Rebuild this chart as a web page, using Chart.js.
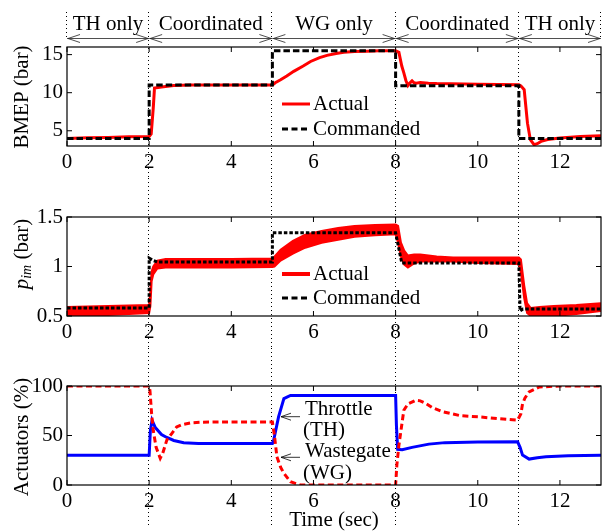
<!DOCTYPE html>
<html>
<head>
<meta charset="utf-8">
<script src="https://cdn.jsdelivr.net/npm/chart.js@4.4.1/dist/chart.umd.min.js"></script>
<style>
  body { margin: 0; background: #fff; }
  #wrap { position: relative; width: 605px; height: 531px; }
  canvas { position: absolute; left: 0; }
</style>
</head>
<body>
<div id="wrap">
  <canvas id="c1" width="605" height="178" style="top:0"></canvas>
  <canvas id="c2" width="605" height="170" style="top:178px"></canvas>
  <canvas id="c3" width="605" height="183" style="top:348px"></canvas>
</div>
<script>
const SERIF = '"Liberation Serif", "Times New Roman", serif';

// control phases along the time axis
const phaseBounds = [0, 2, 5, 8, 11, 13];
const phaseNames = ['TH only', 'Coordinated', 'WG only', 'Coordinated', 'TH only'];
const xTicks = [0, 2, 4, 6, 8, 10, 12];

// BMEP (bar)
const bmepTicks = [5, 10, 15];
const bmepCmdT = [0, 2, 2, 5, 5, 8, 8, 11, 11, 13];
const bmepCmd = [4, 4, 11, 11, 15.5, 15.5, 10.9, 10.9, 4, 4];
const bmepActT = [0, 0.5, 1, 1.5, 2, 2.05, 2.1, 2.13, 2.3, 2.6, 3, 4, 5, 5.07, 5.2, 5.35, 5.52, 5.75, 5.93, 6.15,
  6.33, 6.55, 6.74, 7, 7.3, 7.6, 8, 8.08, 8.15, 8.2, 8.25, 8.3, 8.35, 8.4, 8.45, 8.5, 8.6, 8.8, 9, 10, 11,
  11.05, 11.13, 11.21, 11.28, 11.37, 11.45, 11.54, 11.7, 12, 12.5, 13];
const bmepAct = [4.0, 4.07, 4.13, 4.2, 4.26, 4.6, 8.0, 10.6, 10.75, 10.95, 11.0, 11.0, 11.0, 11.3, 11.7, 12.2, 12.8,
  13.5, 14.1, 14.6, 14.9, 15.15, 15.3, 15.4, 15.45, 15.5, 15.5, 15.3, 13.5, 12.6, 11.6, 10.95, 11.3, 11.55, 11.3,
  11.25, 11.35, 11.25, 11.2, 11.1, 11.05, 10.9, 10.4, 6.0, 3.83, 3.17, 3.3, 3.6, 3.85, 4.05, 4.25, 4.36];

// intake manifold pressure (bar)
const pimTicks = [0.5, 1, 1.5];
const pimCmdT = [0, 2, 2, 2.1, 2.2, 5, 5, 8, 8.15, 11, 11.03, 11.1, 13];
const pimCmd = [0.58, 0.58, 1.085, 1.06, 1.045, 1.045, 1.34, 1.34, 1.035, 1.035, 0.55, 0.57, 0.57];
const pimT = [0, 1, 2, 2.03, 2.06, 2.1, 2.2, 2.4, 3, 4, 5, 5.05, 5.2, 5.5, 5.8, 6.2, 6.6, 7, 7.5, 8, 8.06, 8.13,
  8.21, 8.3, 8.45, 8.6, 9, 9.4, 10, 11, 11.05, 11.13, 11.2, 11.29, 11.5, 11.85, 12.4, 13];
const pimHi = [0.59, 0.6, 0.61, 0.75, 0.95, 1.0, 1.06, 1.075, 1.075, 1.075, 1.08, 1.1, 1.17, 1.26, 1.32, 1.36, 1.39,
  1.41, 1.42, 1.425, 1.41, 1.24, 1.16, 1.11, 1.12, 1.12, 1.1, 1.09, 1.09, 1.09, 1.07, 0.81, 0.63, 0.58, 0.59, 0.6,
  0.61, 0.63];
const pimLo = [0.5, 0.51, 0.53, 0.6, 0.85, 0.92, 0.98, 0.99, 0.99, 0.99, 0.995, 1.0, 1.06, 1.13, 1.19, 1.24, 1.27,
  1.3, 1.315, 1.325, 1.24, 1.1, 1.02, 0.99, 1.03, 1.05, 1.05, 1.05, 1.035, 1.025, 0.94, 0.68, 0.53, 0.5, 0.5, 0.5,
  0.52, 0.55];

// actuator positions (%)
const actTicks = [0, 50, 100];
const thT = [0, 2, 2.03, 2.07, 2.15, 2.3, 2.43, 2.6, 2.84, 3.2, 4, 5, 5.03, 5.15, 5.28, 5.44, 8, 8.02, 8.05, 8.16,
  8.4, 8.81, 9.2, 10, 10.97, 11.03, 11.09, 11.25, 11.45, 11.66, 12.2, 13];
const thV = [30, 30, 55, 65.5, 58, 51, 48, 45, 42.6, 42, 42, 42, 45, 68.8, 87.3, 90.5, 90.5, 60, 36, 35.6, 38,
  41.3, 42.8, 43.4, 43.6, 38, 30.2, 26.2, 27.5, 28.5, 29.6, 30];
const wgT = [0, 2, 2.02, 2.06, 2.1, 2.17, 2.27, 2.33, 2.43, 2.55, 2.67, 2.8, 3, 3.3, 4, 5, 5.05, 5.11, 5.2, 5.28,
  5.44, 5.68, 8, 8.03, 8.08, 8.12, 8.2, 8.3, 8.49, 8.6, 8.73, 8.9, 9.15, 9.58, 10.03, 10.5, 10.97, 11.05, 11.09,
  11.15, 11.25, 11.5, 12, 13];
const wgV = [100, 100, 95, 72, 55, 38, 27, 32, 45.3, 52, 58.7, 61, 62.7, 63.5, 63.7, 63.7, 50, 28.5, 18, 11.8,
  3.3, 0, 0, 20, 40, 52, 75.5, 82, 85.6, 85, 82.5, 78, 74, 70, 68.8, 67, 65.5, 72, 82, 88, 94, 99, 100, 100];

const pts = (t, v) => t.map((x, i) => ({ x: x, y: v[i] }));

function arrowHead(ctx, x, y, dir, len, half) {
  ctx.beginPath();
  ctx.moveTo(x + dir * len, y - half);
  ctx.lineTo(x, y);
  ctx.lineTo(x + dir * len, y + half);
  ctx.stroke();
}

// everything MATLAB draws around the axes: dotted phase lines, box, inner ticks, titles, legend
function decoPlugin(cfg) {
  return {
    id: 'deco',
    beforeDatasetsDraw(chart) {
      const ctx = chart.ctx;
      const xs = chart.scales.x;
      ctx.save();
      ctx.strokeStyle = '#000';
      ctx.lineWidth = 1;
      ctx.setLineDash([1, 3]);
      phaseBounds.forEach((b, i) => {
        const edge = i === 0 || i === phaseBounds.length - 1;
        if (edge && !cfg.phases) return;
        const px = Math.round(xs.getPixelForValue(b)) - 0.5;
        ctx.beginPath();
        ctx.moveTo(px, cfg.lineTop);
        ctx.lineTo(px, edge ? 40 : cfg.lineBottom);
        ctx.stroke();
      });
      ctx.restore();
    },
    afterDatasetsDraw(chart) {
      const ctx = chart.ctx;
      const a = chart.chartArea;
      const xs = chart.scales.x, ys = chart.scales.y;
      ctx.save();
      ctx.strokeStyle = '#000';
      ctx.fillStyle = '#000';

      // box + inward ticks
      ctx.lineWidth = 1.2;
      ctx.strokeRect(a.left, a.top, a.right - a.left, a.bottom - a.top);
      ctx.lineWidth = 1;
      xTicks.forEach(v => {
        const px = xs.getPixelForValue(v);
        ctx.beginPath();
        ctx.moveTo(px, a.bottom); ctx.lineTo(px, a.bottom - 5);
        ctx.moveTo(px, a.top); ctx.lineTo(px, a.top + 5);
        ctx.stroke();
      });
      cfg.yTicks.forEach(v => {
        const py = ys.getPixelForValue(v);
        ctx.beginPath();
        ctx.moveTo(a.left, py); ctx.lineTo(a.left + 5, py);
        ctx.moveTo(a.right, py); ctx.lineTo(a.right - 5, py);
        ctx.stroke();
      });

      // y title (pieces so the subscript can be drawn)
      ctx.save();
      ctx.translate(22, cfg.yTitleY);
      ctx.rotate(-Math.PI / 2);
      ctx.textBaseline = 'middle';
      let total = 0;
      cfg.yTitle.forEach(p => { ctx.font = p.font; total += ctx.measureText(p.text).width; });
      let cx = -total / 2;
      cfg.yTitle.forEach(p => {
        ctx.font = p.font;
        ctx.fillText(p.text, cx, p.shift || 0);
        cx += ctx.measureText(p.text).width;
      });
      ctx.restore();

      ctx.font = '21px ' + SERIF;
      ctx.textBaseline = 'middle';

      // legend
      (cfg.legend || []).forEach(item => {
        ctx.save();
        ctx.strokeStyle = item.color;
        ctx.lineWidth = item.width;
        ctx.setLineDash(item.dash || []);
        ctx.beginPath();
        ctx.moveTo(282, item.y);
        ctx.lineTo(310, item.y);
        ctx.stroke();
        ctx.restore();
        ctx.textAlign = 'left';
        ctx.fillText(item.label, 313, item.y);
      });

      // phase header above the top panel
      if (cfg.phases) {
        ctx.textAlign = 'center';
        ctx.textBaseline = 'alphabetic';
        ctx.lineWidth = 0.8;
        ctx.strokeStyle = '#222';
        const ay = 38.5;
        phaseNames.forEach((name, i) => {
          const x0 = xs.getPixelForValue(phaseBounds[i]);
          const x1 = xs.getPixelForValue(phaseBounds[i + 1]);
          ctx.fillText(name, (x0 + x1) / 2, 30);
          ctx.beginPath();
          ctx.moveTo(x0, ay); ctx.lineTo(x1, ay);
          ctx.stroke();
          arrowHead(ctx, x0 + 1, ay, 1, 12, 4);
          arrowHead(ctx, x1 - 1, ay, -1, 12, 4);
        });
      }

      // text notes with arrows (actuator panel)
      (cfg.notes || []).forEach(n => {
        ctx.textAlign = 'left';
        ctx.textBaseline = 'middle';
        ctx.fillText(n.text, n.x, n.y);
      });
      ctx.lineWidth = 0.8;
      (cfg.pointers || []).forEach(p => {
        ctx.beginPath();
        ctx.moveTo(p.x0, p.y); ctx.lineTo(p.x1, p.y);
        ctx.stroke();
        arrowHead(ctx, p.x1, p.y, 1, 10, 3.5);
      });

      if (cfg.xTitle) {
        ctx.textAlign = 'center';
        ctx.textBaseline = 'middle';
        ctx.fillText(cfg.xTitle, (a.left + a.right) / 2, cfg.xTitleY);
      }
      ctx.restore();
    }
  };
}

function options(yMin, yMax, yTicks, padTop, xHeight) {
  const tickFont = { family: SERIF, size: 21 };
  return {
    responsive: false,
    animation: false,
    layout: { padding: { top: padTop, right: 4, left: 0, bottom: 0 } },
    plugins: { legend: { display: false }, tooltip: { enabled: false } },
    elements: { point: { radius: 0 }, line: { tension: 0 } },
    scales: {
      x: {
        type: 'linear', min: 0, max: 13,
        afterBuildTicks: s => { s.ticks = xTicks.map(v => ({ value: v })); },
        afterFit: s => { s.height = xHeight; },
        grid: { display: false, drawTicks: false },
        border: { display: false },
        ticks: { padding: 4, color: '#000', font: tickFont, maxRotation: 0, autoSkip: false, callback: v => String(v) }
      },
      y: {
        type: 'linear', min: yMin, max: yMax,
        afterBuildTicks: s => { s.ticks = yTicks.map(v => ({ value: v })); },
        afterFit: s => { s.width = 67; },
        grid: { display: false, drawTicks: false },
        border: { display: false },
        ticks: { padding: 4, color: '#000', font: tickFont, autoSkip: false, callback: v => String(v) }
      }
    }
  };
}

const t21 = '21px ' + SERIF;

new Chart(document.getElementById('c1'), {
  type: 'line',
  data: {
    datasets: [
      { label: 'Commanded', data: pts(bmepCmdT, bmepCmd), borderColor: '#000', borderWidth: 3, borderDash: [6.5, 3], order: 0 },
      { label: 'Actual', data: pts(bmepActT, bmepAct), borderColor: '#ff0000', borderWidth: 3, order: 1 }
    ]
  },
  options: options(3, 16, bmepTicks, 47, 32),
  plugins: [decoPlugin({
    phases: true, lineTop: 12, lineBottom: 178, yTicks: bmepTicks, yTitleY: 97,
    yTitle: [{ text: 'BMEP (bar)', font: t21 }],
    legend: [
      { label: 'Actual', color: '#ff0000', width: 3, y: 104 },
      { label: 'Commanded', color: '#000', width: 3, dash: [6, 3.5], y: 129 }
    ]
  })]
});

new Chart(document.getElementById('c2'), {
  type: 'line',
  data: {
    datasets: [
      { label: 'Commanded', data: pts(pimCmdT, pimCmd), borderColor: '#000', borderWidth: 3, borderDash: [3.5, 2], order: 0 },
      { label: 'Actual', data: pts(pimT, pimHi), borderColor: '#ff0000', backgroundColor: '#ff0000', borderWidth: 2, fill: '+1', order: 1 },
      { label: 'Actual low', data: pts(pimT, pimLo), borderColor: '#ff0000', borderWidth: 2, order: 2 }
    ]
  },
  options: options(0.5, 1.5, pimTicks, 39, 32),
  plugins: [decoPlugin({
    phases: false, lineTop: 0, lineBottom: 170, yTicks: pimTicks, yTitleY: 76,
    yTitle: [
      { text: 'p', font: 'italic ' + t21 },
      { text: 'im', font: 'italic 14px ' + SERIF, shift: 5 },
      { text: ' (bar)', font: t21 }
    ],
    legend: [
      { label: 'Actual', color: '#ff0000', width: 4, y: 96 },
      { label: 'Commanded', color: '#000', width: 3, dash: [6, 3.5], y: 120 }
    ]
  })]
});

new Chart(document.getElementById('c3'), {
  type: 'line',
  data: {
    datasets: [
      { label: 'Wastegate', data: pts(wgT, wgV), borderColor: '#ff0000', borderWidth: 3, borderDash: [6, 3.5], order: 0 },
      { label: 'Throttle', data: pts(thT, thV), borderColor: '#0000ff', borderWidth: 3, order: 1 }
    ]
  },
  options: options(0, 100, actTicks, 38, 46),
  plugins: [decoPlugin({
    phases: false, lineTop: 0, lineBottom: 179, yTicks: actTicks, yTitleY: 89,
    yTitle: [{ text: 'Actuators (%)', font: t21 }],
    notes: [
      { text: 'Throttle', x: 305, y: 61 },
      { text: '(TH)', x: 303, y: 82.5 },
      { text: 'Wastegate', x: 305, y: 103 },
      { text: '(WG)', x: 303, y: 125 }
    ],
    pointers: [
      { x0: 300, x1: 281, y: 68.7 },
      { x0: 300, x1: 281, y: 109.3 }
    ],
    xTitle: 'Time (sec)', xTitleY: 172
  })]
});
</script>
</body>
</html>
